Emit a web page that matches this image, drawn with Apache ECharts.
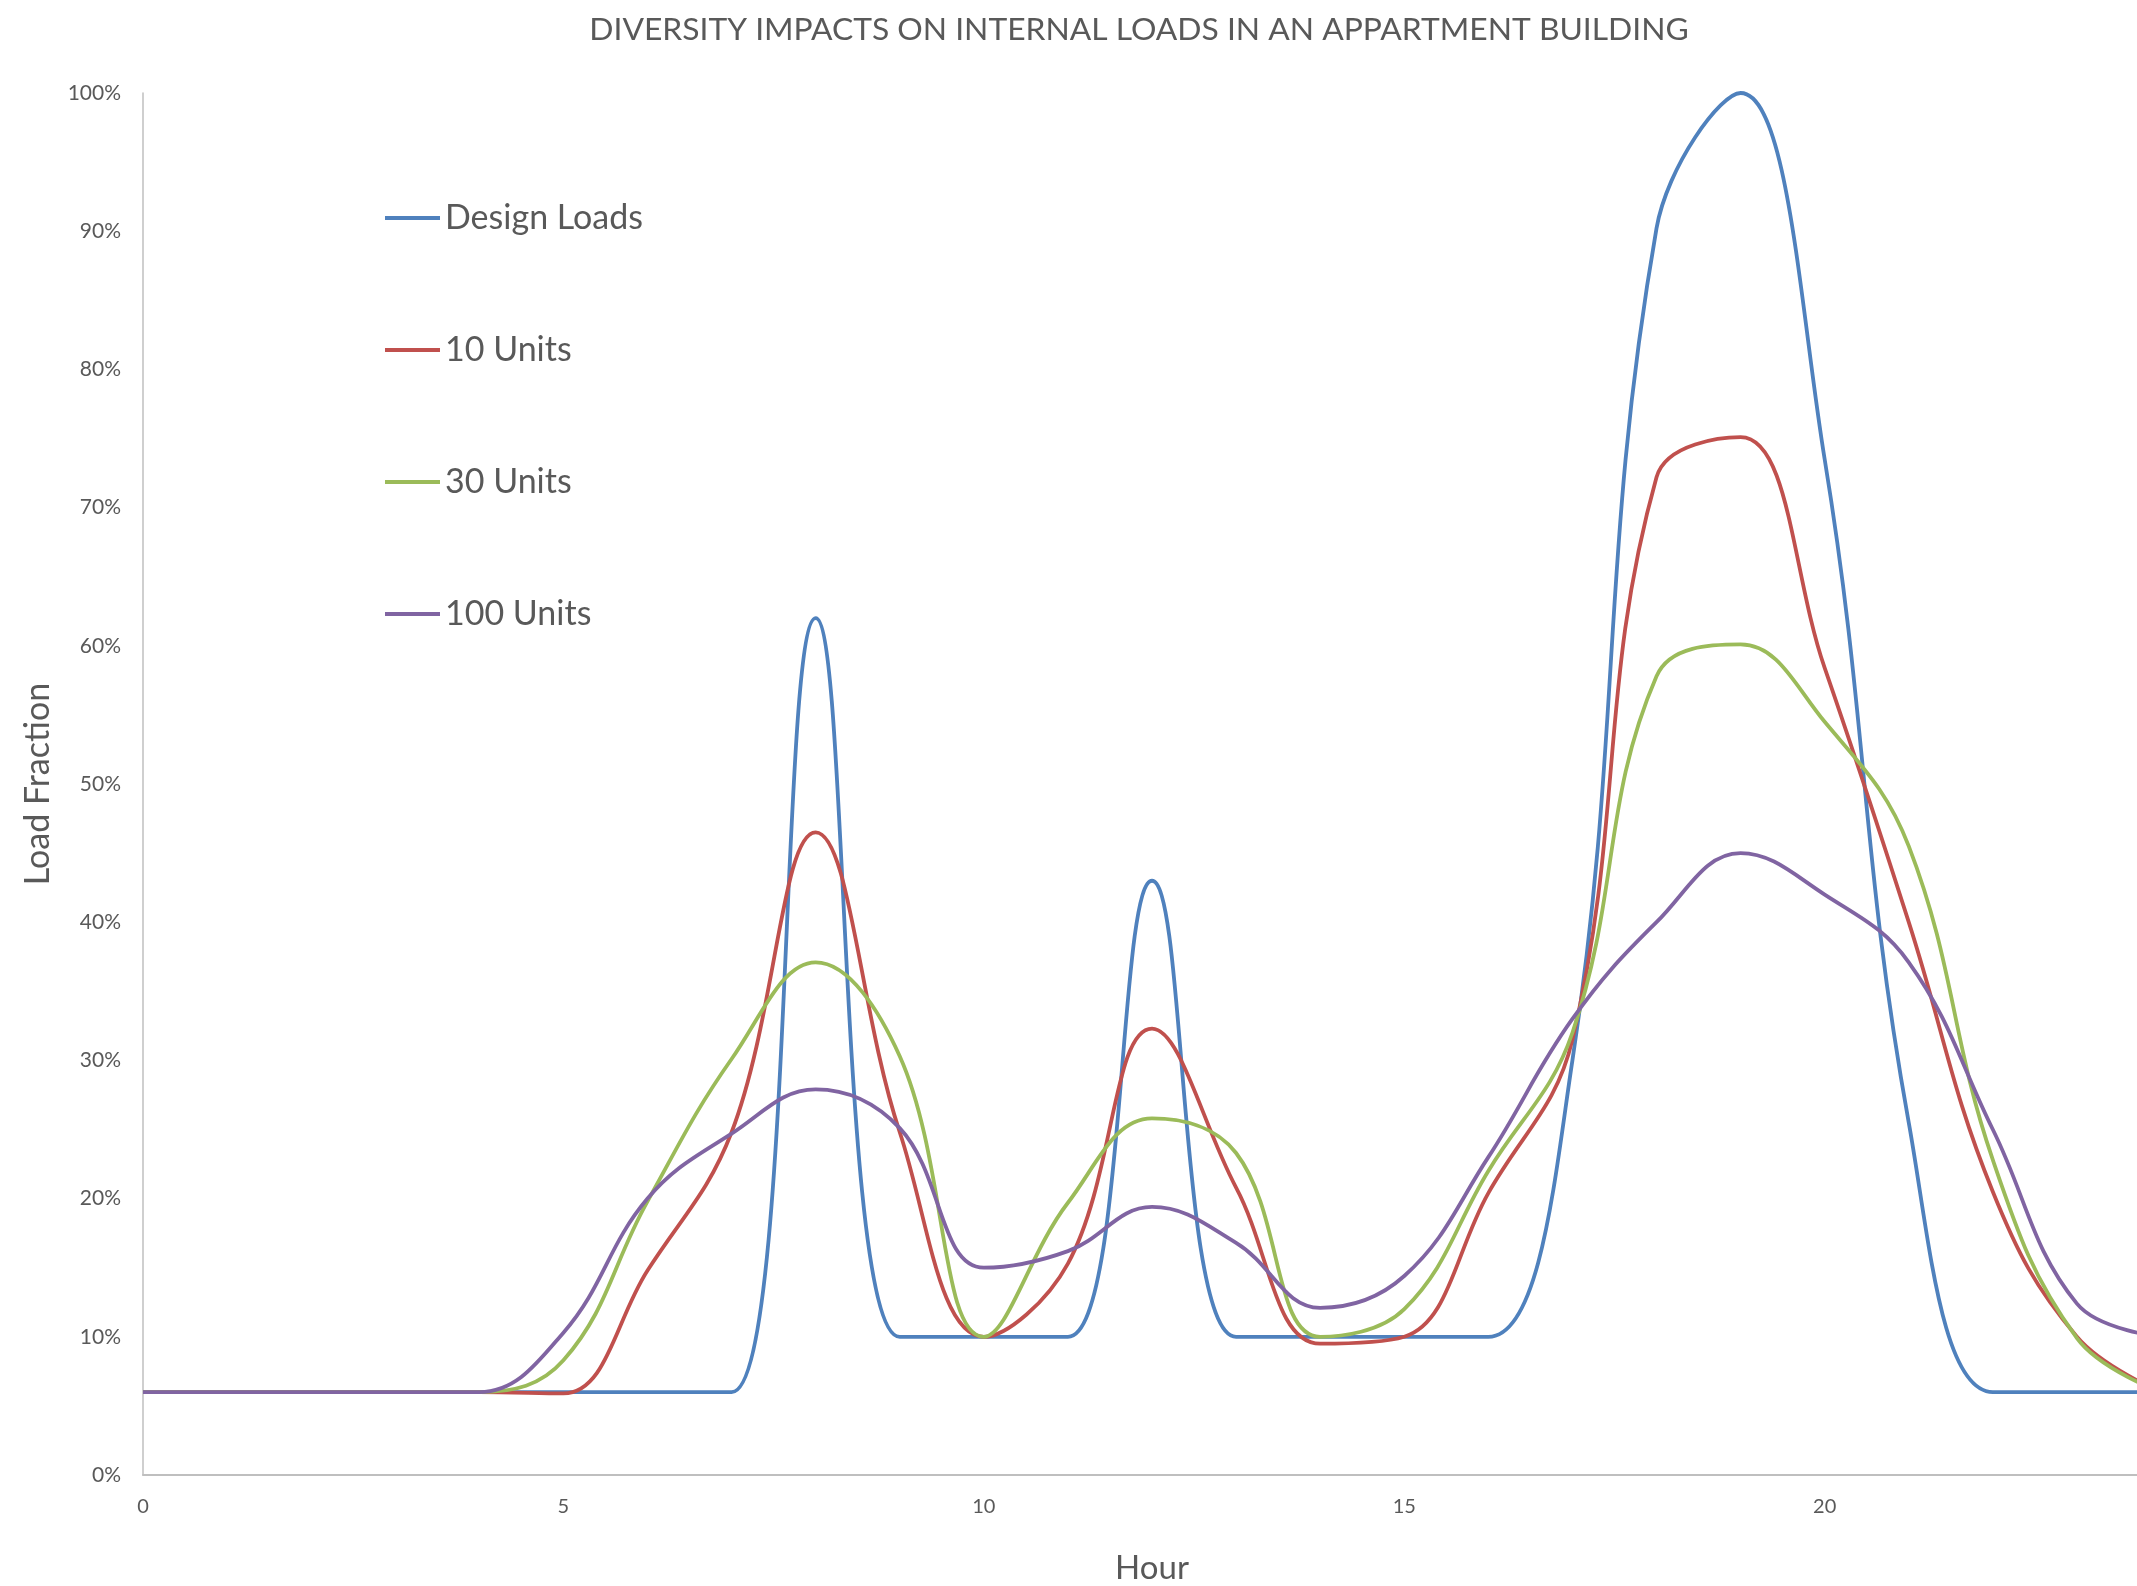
<!DOCTYPE html>
<html>
<head>
<meta charset="utf-8">
<title>Diversity impacts on internal loads</title>
<script src="https://cdn.jsdelivr.net/npm/echarts@6/dist/echarts.min.js"></script>
<style>
  html, body { margin: 0; padding: 0; background: #ffffff; }
  #chart { width: 2137px; height: 1586px; }
</style>
</head>
<body>
<div id="chart"></div>
<script>
// Hour of day (0..24)
const hours = [0, 1, 2, 3, 4, 5, 6, 7, 8, 9, 10, 11, 12, 13, 14, 15, 16, 17, 18, 19, 20, 21, 22, 23, 24];

// Load fraction, % of peak design load
const designLoads = [6, 6, 6, 6, 6, 6, 6, 6, 62, 10, 10, 10, 43, 10, 10, 10, 10, 30, 90.2, 100, 73.5, 25.5, 6, 6, 6];
const units10     = [6, 6, 6, 6, 6, 5.9, 14.8, 24.8, 46.5, 24.8, 10, 15.3, 32.3, 20.8, 9.5, 10, 20.4, 31.5, 72.2, 75.1, 58.4, 40, 20.5, 10, 6];
const units30     = [6, 6, 6, 6, 6, 8.3, 19.8, 30.1, 37.1, 30.3, 10, 19.7, 25.8, 23.3, 10, 12, 22, 32, 57.8, 60.1, 54.5, 45.5, 22.8, 9.9, 6];
const units100    = [6, 6, 6, 6, 6, 10.3, 20, 24.7, 27.9, 25.1, 15, 16.2, 19.4, 16.8, 12.1, 14.4, 23, 33, 40, 45, 42, 37.1, 25, 12.4, 10];

const seriesNames = ['Design Loads', '10 Units', '30 Units', '100 Units'];
const seriesColors = ['#4F81BD', '#C0504D', '#9BBB59', '#8064A2'];
const seriesValues = [designLoads, units10, units30, units100];

const yTicks = { min: 0, max: 100, interval: 10 };
const xTicks = { min: 0, max: 24, interval: 5 };

const FONT = 'Lato, "Open Sans", sans-serif';
const TEXT = '#595959';

const chart = echarts.init(document.getElementById('chart'), null, { renderer: 'canvas' });

const series = seriesNames.map((name, i) => ({
  name: name,
  type: 'line',
  data: hours.map((h, k) => [h, seriesValues[i][k]]),
  smooth: 0.4,
  showSymbol: false,
  symbol: 'none',
  lineStyle: { color: seriesColors[i], width: 3.8 },
  itemStyle: { color: seriesColors[i] },
  clip: true,
  animation: false
}));

chart.setOption({
  backgroundColor: '#ffffff',
  animation: false,
  title: {
    text: 'DIVERSITY IMPACTS ON INTERNAL LOADS IN AN APPARTMENT BUILDING',
    left: 1134,
    textAlign: 'center',
    top: 9,
    textStyle: { fontFamily: FONT, fontSize: 31.8, fontWeight: 'normal', color: TEXT }
  },
  legend: {
    orient: 'vertical',
    left: 380,
    top: 193,
    itemGap: 92,
    itemWidth: 55,
    itemHeight: 4,
    icon: 'rect',
    data: seriesNames,
    textStyle: { fontFamily: FONT, fontSize: 34, color: TEXT, lineHeight: 40 }
  },
  grid: { left: 143, top: 93, width: 2018, height: 1382, containLabel: false, outerBoundsMode: 'none' },
  xAxis: {
    type: 'value',
    min: xTicks.min,
    max: xTicks.max,
    interval: xTicks.interval,
    name: 'Hour',
    nameLocation: 'middle',
    nameGap: 77,
    nameTextStyle: { fontFamily: FONT, fontSize: 33, color: TEXT },
    axisLine: { show: true, lineStyle: { color: '#BFBFBF', width: 2 } },
    axisTick: { show: false },
    splitLine: { show: false },
    axisLabel: { fontFamily: FONT, fontSize: 20, color: TEXT, margin: 22, showMaxLabel: false }
  },
  yAxis: {
    type: 'value',
    min: yTicks.min,
    max: yTicks.max,
    interval: yTicks.interval,
    name: 'Load Fraction',
    nameLocation: 'middle',
    nameRotate: 90,
    nameGap: 88,
    nameTextStyle: { fontFamily: FONT, fontSize: 34, color: TEXT },
    axisLine: { show: true, lineStyle: { color: '#BFBFBF', width: 1.5 } },
    axisTick: { show: false },
    splitLine: { show: false },
    axisLabel: { fontFamily: FONT, fontSize: 21, color: TEXT, margin: 22, formatter: '{value}%' }
  },
  series: series
});
</script>
</body>
</html>
